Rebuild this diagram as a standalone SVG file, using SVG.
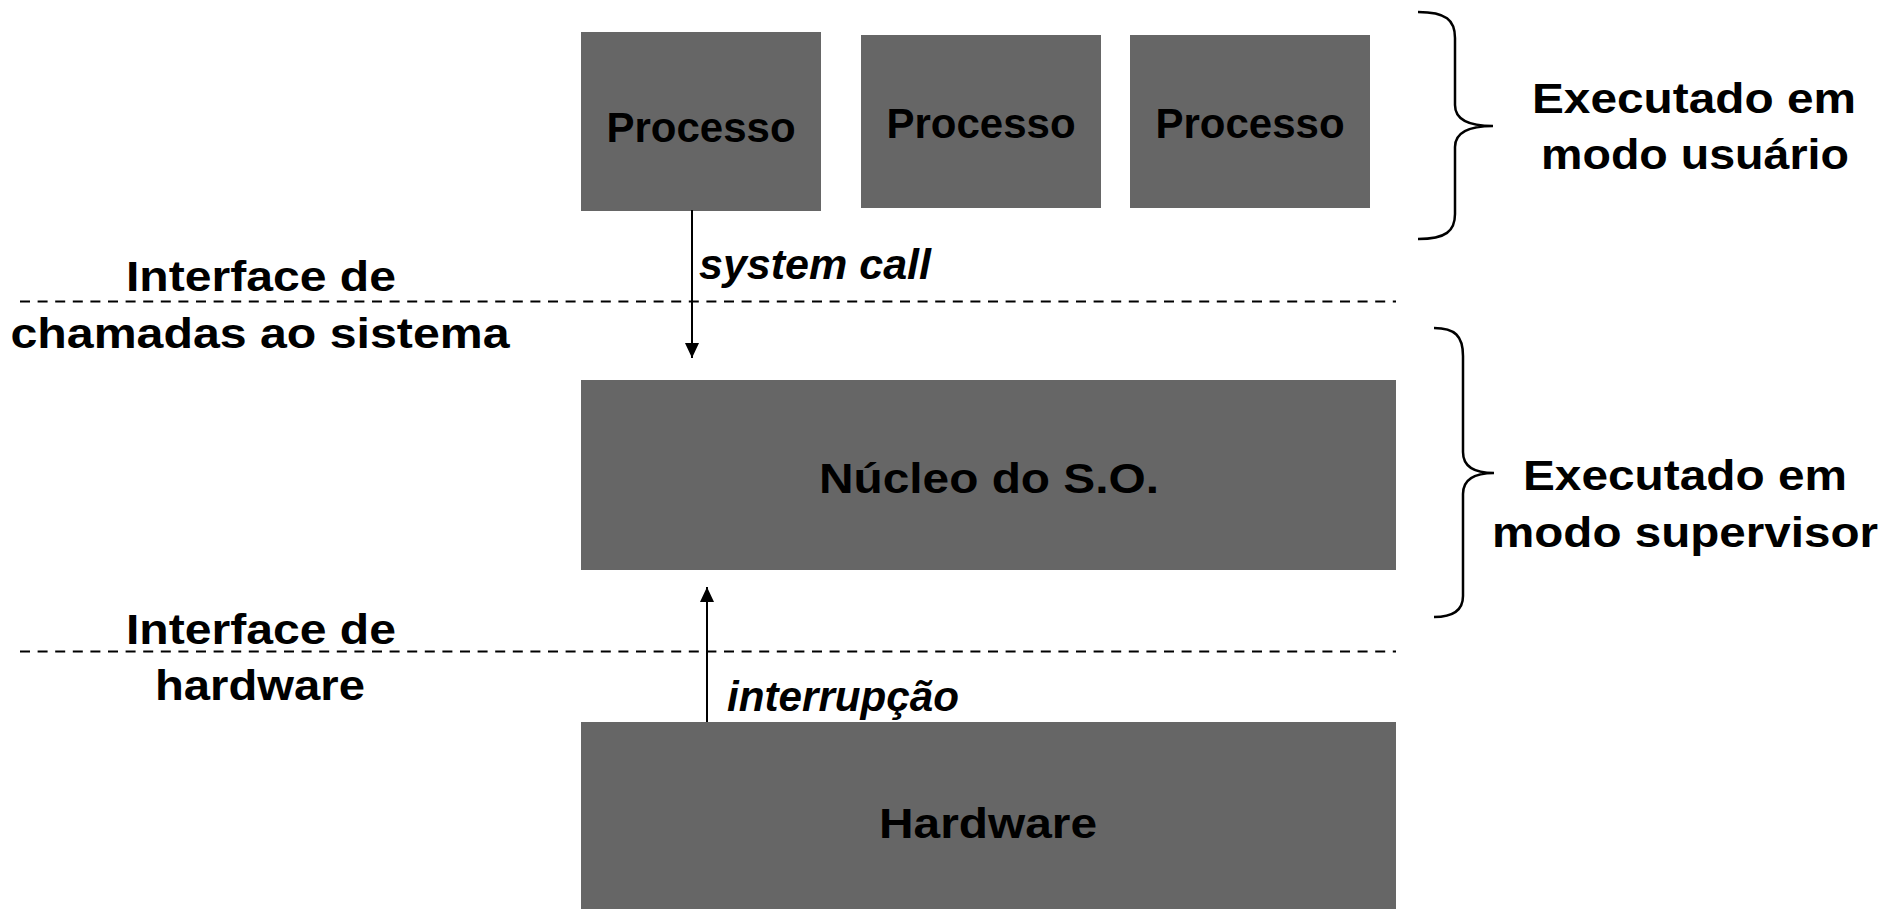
<svg xmlns="http://www.w3.org/2000/svg" width="1904" height="909" viewBox="0 0 1904 909">
  <style>
    .box { fill: #666666; }
    .lbl { font-family: "Liberation Sans", Arial, sans-serif; font-weight: bold; font-size: 42px; fill: #000; }
    .big { font-size: 43px; }
    .it { font-style: italic; }
    .dash { stroke: #000; stroke-width: 2; stroke-dasharray: 10 7.6; fill: none; }
    .conn { stroke: #000; stroke-width: 2; fill: none; }
    .brace { stroke: #000; stroke-width: 2.5; fill: none; }
  </style>
  <defs>
    <marker id="ah" viewBox="0 0 15 14" refX="15" refY="7" markerWidth="15" markerHeight="14" orient="auto" markerUnits="userSpaceOnUse">
      <path d="M0,0 L15,7 L0,14 z" fill="#000"/>
    </marker>
  </defs>
  <rect width="1904" height="909" fill="#ffffff"/>

  <g id="proc1">
    <rect class="box" x="581" y="32" width="240" height="179"/>
    <text class="lbl" x="701" y="141.5" text-anchor="middle">Processo</text>
  </g>
  <g id="proc2">
    <rect class="box" x="861" y="35" width="240" height="173"/>
    <text class="lbl" x="981" y="138" text-anchor="middle">Processo</text>
  </g>
  <g id="proc3">
    <rect class="box" x="1130" y="35" width="240" height="173"/>
    <text class="lbl" x="1250" y="138" text-anchor="middle">Processo</text>
  </g>
  <g id="nucleo">
    <rect class="box" x="581" y="380" width="815" height="190"/>
    <text class="lbl" x="989" y="493" text-anchor="middle" textLength="340" lengthAdjust="spacingAndGlyphs">Núcleo do S.O.</text>
  </g>
  <g id="hardware">
    <rect class="box" x="581" y="722" width="815" height="187"/>
    <text class="lbl" x="988" y="838" text-anchor="middle" textLength="218" lengthAdjust="spacingAndGlyphs">Hardware</text>
  </g>

  <g id="iface-syscall">
    <line class="dash" x1="20" y1="301.5" x2="1396" y2="301.5"/>
    <text class="lbl" x="261" y="291" text-anchor="middle" textLength="270" lengthAdjust="spacingAndGlyphs">Interface de</text>
    <text class="lbl" x="260" y="348" text-anchor="middle" textLength="499" lengthAdjust="spacingAndGlyphs">chamadas ao sistema</text>
  </g>
  <g id="iface-hw">
    <line class="dash" x1="20" y1="651.5" x2="1396" y2="651.5"/>
    <text class="lbl" x="261" y="644" text-anchor="middle" textLength="270" lengthAdjust="spacingAndGlyphs">Interface de</text>
    <text class="lbl" x="260" y="700" text-anchor="middle" textLength="210" lengthAdjust="spacingAndGlyphs">hardware</text>
  </g>

  <g id="user-mode">
    <path class="brace" d="M1418,12 C1446,12 1455,20 1455,38 L1455,105 C1455,118 1465,126 1493,126 C1465,126 1455,134 1455,147 L1455,214 C1455,231 1446,239 1418,239"/>
    <text class="lbl big" x="1694" y="113" text-anchor="middle" textLength="324" lengthAdjust="spacingAndGlyphs">Executado em</text>
    <text class="lbl big" x="1695" y="169" text-anchor="middle" textLength="308" lengthAdjust="spacingAndGlyphs">modo usuário</text>
  </g>
  <g id="supervisor-mode">
    <path class="brace" d="M1434,328 C1455,328 1463,336 1463,356 L1463,452 C1463,465 1472,473 1494,473 C1472,473 1463,481 1463,494 L1463,596 C1463,609 1455,617 1434,617"/>
    <text class="lbl big" x="1685" y="490" text-anchor="middle" textLength="324" lengthAdjust="spacingAndGlyphs">Executado em</text>
    <text class="lbl big" x="1685" y="547" text-anchor="middle" textLength="386" lengthAdjust="spacingAndGlyphs">modo supervisor</text>
  </g>

  <g id="connectors">
    <g id="syscall">
      <line class="conn" x1="692" y1="210" x2="692" y2="358" marker-end="url(#ah)"/>
      <text class="lbl it" x="699" y="279" textLength="232" lengthAdjust="spacingAndGlyphs">system call</text>
    </g>
    <g id="interrupt">
      <line class="conn" x1="707" y1="722" x2="707" y2="587" marker-end="url(#ah)"/>
      <text class="lbl it" x="727" y="711" textLength="232" lengthAdjust="spacingAndGlyphs">interrupção</text>
    </g>
  </g>
</svg>
